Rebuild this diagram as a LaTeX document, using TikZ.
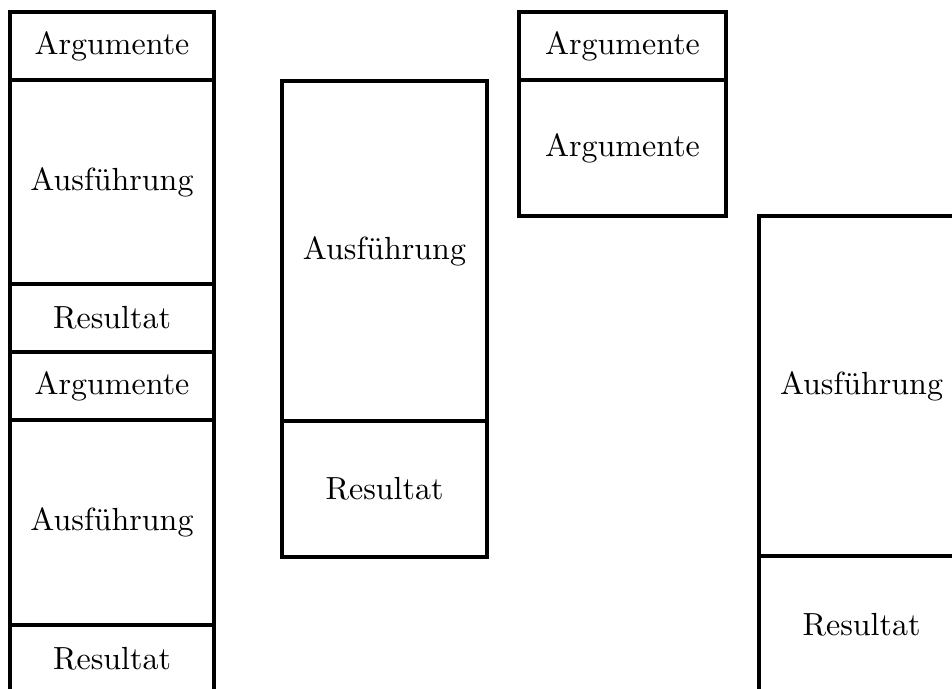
\documentclass[tikz,border=0pt]{standalone}
\usetikzlibrary{fit}
\begin{document}
\begin{tikzpicture}[x=0.3125pt,y=-0.3125pt,
  box/.style={draw, line width=0.95pt, rectangle, inner sep=0pt, outer sep=0pt},
  txt/.style={font=\fontsize{10}{12}\selectfont, inner sep=0pt}]
\useasboundingbox (0,0) rectangle (952,688);
\begin{scope}
\clip (0,0) rectangle (952,688);
% column 1
\node[box, fit={(10,12)(214,80)}, label={[txt]center:Argumente}] (a1) {};
\node[box, fit={(10,80)(214,284)}, label={[txt]center:Ausführung}] (e1) {};
\node[box, fit={(10,284)(214,352)}, label={[txt]center:Resultat}] (r1) {};
\node[box, fit={(10,352)(214,420)}, label={[txt]center:Argumente}] (a2) {};
\node[box, fit={(10,420)(214,625)}, label={[txt]center:Ausführung}] (e2) {};
\node[box, fit={(10,625)(214,693)}, label={[txt]center:Resultat}] (r2) {};
% column 2
\node[box, fit={(282,81)(487,421)}, label={[txt]center:Ausführung}] (e3) {};
\node[box, fit={(282,421)(487,557)}, label={[txt]center:Resultat}] (r3) {};
% column 3
\node[box, fit={(519,12)(726,80)}, label={[txt]center:Argumente}] (a4) {};
\node[box, fit={(519,80)(726,216)}, label={[txt]center:Argumente}] (a5) {};
% column 4
\node[box, fit={(759,216)(964,556)}, label={[txt]center:Ausführung}] (e6) {};
\node[box, fit={(759,556)(964,693)}, label={[txt]center:Resultat}] (r6) {};
\end{scope}
\end{tikzpicture}
\end{document}
